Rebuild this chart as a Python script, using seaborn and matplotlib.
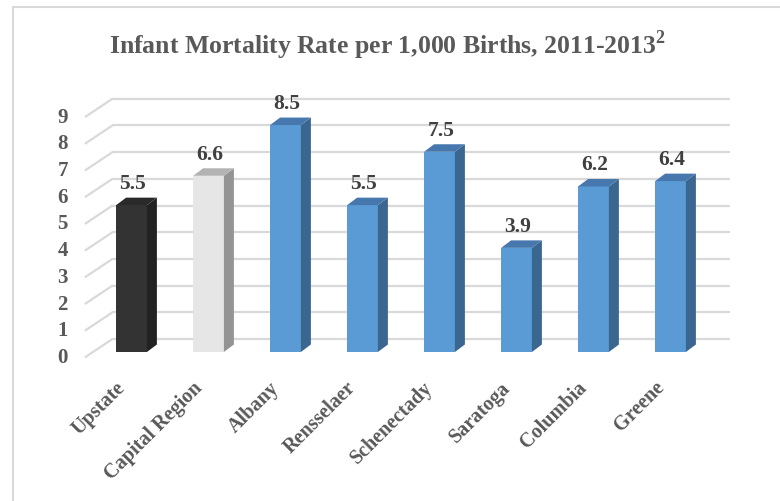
import matplotlib
matplotlib.use('Agg')
import matplotlib.pyplot as plt
import seaborn as sns
from matplotlib.patches import Polygon
from matplotlib.lines import Line2D

# data
regions = ['Upstate', 'Capital Region', 'Albany', 'Rensselaer',
           'Schenectady', 'Saratoga', 'Columbia', 'Greene']
rates = [5.5, 6.6, 8.5, 5.5, 7.5, 3.9, 6.2, 6.4]
yticks = list(range(10))

# colours: front, side, top
front_cols = ['#333333', '#e7e6e6'] + ['#5b9bd5'] * 6
side_cols = ['#222222', '#949494'] + ['#3b6690'] * 6
top_cols = ['#2a2a2a', '#b3b3b3'] + ['#4678ad'] * 6

sns.set_style('white')
plt.rcParams['font.family'] = ['Liberation Serif', 'DejaVu Serif']
plt.rcParams['font.weight'] = 'bold'
plt.rcParams['mathtext.fontset'] = 'custom'
plt.rcParams['mathtext.rm'] = 'Liberation Serif:bold'
plt.rcParams['mathtext.bf'] = 'Liberation Serif:bold'
txt_col = '#595959'
grid_col = '#d9d9d9'

fig = plt.figure(figsize=(7.8, 5.02), dpi=100)
W, H = 780, 502
# axes = front plane of the bars (pixel layout)
ax = fig.add_axes([93 / W, 149 / H, 616 / W, 267 / H])
ax.set_xlim(-0.5, len(regions) - 0.5)
ax.set_ylim(0, 10)

sns.barplot(x=regions, y=rates, hue=regions, palette=front_cols,
            width=0.4, legend=False, ax=ax, zorder=3, saturation=1,
            edgecolor='none')

# pixel -> data helpers
px_x = 616 / len(regions)     # px per category
px_y = 267 / 10               # px per unit


def dx(p):
    return p / px_x


def dy(p):
    return p / px_y


# back wall gridlines and left diagonal (floor/wall depth)
for v in yticks:
    ax.add_line(Line2D([-0.5 + dx(19.5), len(regions) - 0.5 + dx(19.5)],
                       [v + dy(13), v + dy(13)], color=grid_col, lw=1.6,
                       zorder=1, clip_on=False))
    ax.add_line(Line2D([-0.5 - dx(7.5), -0.5 + dx(19.5)],
                       [v - dy(5), v + dy(13)], color=grid_col, lw=1.6,
                       zorder=1, clip_on=False))
    ax.text(-0.5 - dx(25), v - dy(5), str(v), ha='right', va='center',
            fontsize=15, color=txt_col)

# 3D side and top faces
ddx, ddy = dx(10), dy(7.5)
for i, (p, v) in enumerate(zip(ax.patches, rates)):
    x0 = p.get_x()
    x1 = x0 + p.get_width()
    side = Polygon([(x1, 0), (x1 + ddx, ddy), (x1 + ddx, v + ddy), (x1, v)],
                   closed=True, facecolor=side_cols[i], edgecolor='none',
                   zorder=3, clip_on=False)
    top = Polygon([(x0, v), (x1, v), (x1 + ddx, v + ddy), (x0 + ddx, v + ddy)],
                  closed=True, facecolor=top_cols[i], edgecolor='none',
                  zorder=3, clip_on=False)
    ax.add_patch(side)
    ax.add_patch(top)
    p.set_clip_on(False)
    ax.annotate(f'{v}', (i, v), xytext=(1, 22 * 0.72), textcoords='offset points',
                ha='center', va='center', fontsize=15.5, color='#404040')
    ax.annotate(regions[i], (i, 0), xytext=(-9.5 * 0.72, -32 * 0.72),
                textcoords='offset points', rotation=45, ha='right',
                va='center', rotation_mode='anchor', fontsize=14.5, color=txt_col)

ax.set_xticks([])
ax.set_yticks([])
ax.set_xlabel('')
ax.set_ylabel('')
for s in ax.spines.values():
    s.set_visible(False)
ax.patch.set_alpha(0)

fig.text(0.497, 1 - 45 / H, r'Infant Mortality Rate per 1,000 Births, 2011-2013$^{2}$',
         ha='center', va='center', fontsize=18.5, color=txt_col)

# chart area border (left and top edges visible)
fig.add_artist(Line2D([13 / W, 13 / W], [0, 1 - 8 / H], color=grid_col, lw=1.5,
                      transform=fig.transFigure))
fig.add_artist(Line2D([13 / W, 1], [1 - 8 / H, 1 - 8 / H], color=grid_col, lw=1.5,
                      transform=fig.transFigure))

fig.savefig('out.png', dpi=100)
